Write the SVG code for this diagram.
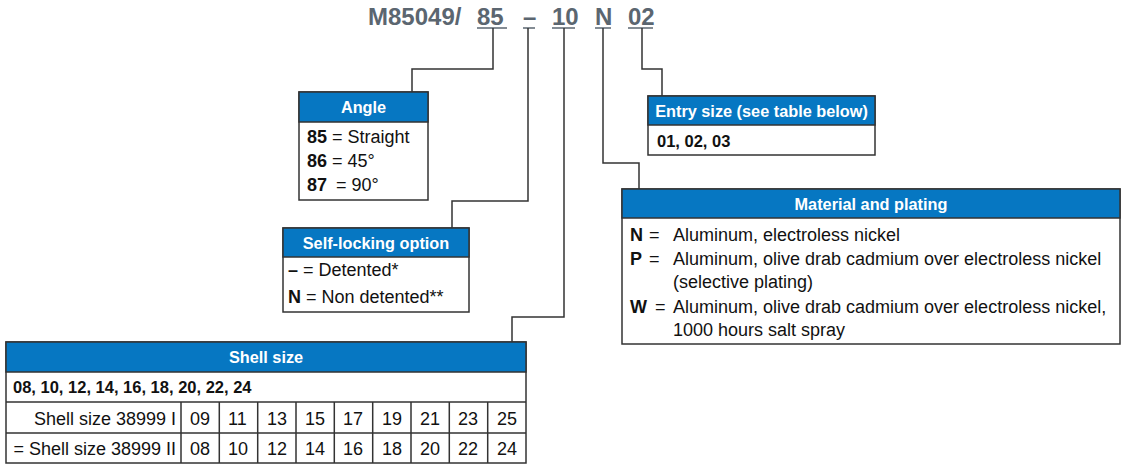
<svg xmlns="http://www.w3.org/2000/svg" width="1123" height="464" viewBox="0 0 1123 464">
<style>
text{font-family:"Liberation Sans Narrow","Liberation Sans",Arial,sans-serif;fill:#111;}
.t{font-size:24px;font-weight:bold;fill:#5b6670;}
.h{font-size:16.3px;font-weight:bold;fill:#fff;text-anchor:middle;}
.c{font-size:18px;}
.b{font-weight:bold;}
.bs{font-size:16.5px;font-weight:bold;}
.box{fill:#fff;stroke:#333;stroke-width:1.5;}
.hd{fill:#0677c2;stroke:#333;stroke-width:1.5;}
.ln{fill:none;stroke:#333;stroke-width:1.5;}
.ul{stroke:#5b6670;stroke-width:1.5;}
</style>
<g id="title">
<text class="t" x="368" y="25">M85049/</text>
<text class="t" x="477" y="25">85</text>
<text class="t" x="523" y="25">–</text>
<text class="t" x="552" y="25">10</text>
<text class="t" x="595" y="25">N</text>
<text class="t" x="628" y="25">02</text>
<line class="ul" x1="477" y1="28" x2="507" y2="28"/>
<line class="ul" x1="523" y1="28" x2="535" y2="28"/>
<line class="ul" x1="552" y1="28" x2="575" y2="28"/>
<line class="ul" x1="595" y1="28" x2="611" y2="28"/>
<line class="ul" x1="628" y1="28" x2="653" y2="28"/>
</g>
<g id="connectors">
<polyline class="ln" points="493,28 493,69 412,69 412,92"/>
<polyline class="ln" points="528,28 528,201 452,201 452,228"/>
<polyline class="ln" points="564,28 564,317 512,317 512,342"/>
<polyline class="ln" points="603,28 603,163 639,163 639,189"/>
<polyline class="ln" points="642,28 642,69 662,69 662,96"/>
</g>
<g id="angle">
<rect class="box" x="299" y="92" width="129" height="108"/>
<rect class="hd" x="299" y="92" width="129" height="30"/>
<text class="h" x="363.5" y="113">Angle</text>
<text class="c" x="307" y="143"><tspan class="b">85</tspan> = Straight</text>
<text class="c" x="307" y="167"><tspan class="b">86</tspan> = 45°</text>
<text class="c" x="307" y="191"><tspan class="b">87</tspan><tspan dx="9">= 90°</tspan></text>
</g>
<g id="self-locking">
<rect class="box" x="283" y="228" width="186" height="84"/>
<rect class="hd" x="283" y="228" width="186" height="29"/>
<text class="h" x="376" y="249">Self-locking option</text>
<text class="c" x="288" y="276"><tspan class="b">–</tspan> = Detented*</text>
<text class="c" x="288" y="303"><tspan class="b">N</tspan> = Non detented**</text>
</g>
<g id="entry-size">
<rect class="box" x="648" y="96" width="227" height="59"/>
<rect class="hd" x="648" y="96" width="227" height="29"/>
<text class="h" x="761.5" y="117">Entry size (see table below)</text>
<text class="bs" x="657" y="147">01, 02, 03</text>
</g>
<g id="material">
<rect class="box" x="622" y="189" width="498" height="155"/>
<rect class="hd" x="622" y="189" width="498" height="29"/>
<text class="h" x="871" y="210">Material and plating</text>
<text class="c b" x="630" y="241">N</text><text class="c" x="649" y="241">=</text><text class="c" x="673" y="241">Aluminum, electroless nickel</text>
<text class="c b" x="630" y="265">P</text><text class="c" x="649" y="265">=</text><text class="c" x="673" y="265">Aluminum, olive drab cadmium over electroless nickel</text>
<text class="c" x="673" y="288">(selective plating)</text>
<text class="c b" x="630" y="313">W</text><text class="c" x="655" y="313">=</text><text class="c" x="673" y="313">Aluminum, olive drab cadmium over electroless nickel,</text>
<text class="c" x="673" y="336">1000 hours salt spray</text>
</g>
<g id="shell-size">
<rect class="box" x="6" y="342" width="520" height="121"/>
<rect class="hd" x="6" y="342" width="520" height="30"/>
<text class="h" x="266" y="363">Shell size</text>
<text class="bs" x="13" y="393">08, 10, 12, 14, 16, 18, 20, 22, 24</text>
<path class="ln" d="M6,402H526M6,433H526M181,402V463M219.3,402V463M257.7,402V463M296,402V463M334.3,402V463M372.7,402V463M411,402V463M449.3,402V463M487.7,402V463"/>
<text class="c" x="176" y="425" text-anchor="end">Shell size 38999 I</text>
<text class="c" x="176" y="455" text-anchor="end">= Shell size 38999 II</text>
<g>
<text class="c" x="190" y="425">09</text><text class="c" x="228" y="425">11</text><text class="c" x="267" y="425">13</text><text class="c" x="305" y="425">15</text><text class="c" x="343" y="425">17</text><text class="c" x="382" y="425">19</text><text class="c" x="420" y="425">21</text><text class="c" x="458" y="425">23</text><text class="c" x="497" y="425">25</text>
<text class="c" x="190" y="455">08</text><text class="c" x="228" y="455">10</text><text class="c" x="267" y="455">12</text><text class="c" x="305" y="455">14</text><text class="c" x="343" y="455">16</text><text class="c" x="382" y="455">18</text><text class="c" x="420" y="455">20</text><text class="c" x="458" y="455">22</text><text class="c" x="497" y="455">24</text>
</g>
</g>
</svg>
